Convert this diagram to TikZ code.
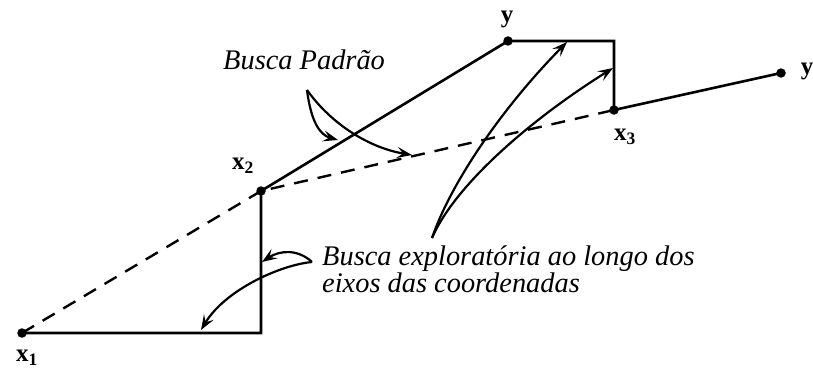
\documentclass[tikz,border=0pt]{standalone}
\usepackage{fontspec}
\setmainfont{Liberation Serif}
\usetikzlibrary{arrows.meta}
\begin{document}
\begin{tikzpicture}[x=1pt,y=-1pt,
  pt/.style={circle,fill=black,inner sep=0pt,minimum size=9.5pt},
  path/.style={line width=2.6pt,line join=miter},
  dashpath/.style={line width=2.4pt,dash pattern=on 14pt off 10pt},
  ptr/.style={line width=2.2pt,-{Stealth[length=15pt,width=11pt,inset=6pt]}},
  lbl/.style={font=\fontsize{25}{25}\selectfont\bfseries,inner sep=0pt},
  note/.style={font=\fontsize{28.4}{25}\selectfont\itshape,inner sep=0pt,align=left}]
\useasboundingbox (0,0) rectangle (813,369);
% points
\node[pt] (x1) at (22,333) {};
\node[pt] (x2) at (261,191) {};
\node[pt] (y1) at (508,41) {};
\node[pt] (x3) at (614,110) {};
\node[pt] (y2) at (781,73) {};
\coordinate (c1) at (261,333);
\coordinate (c2) at (614,41);
% labels
\node[lbl] (lx1) at (27,358) {x\textsubscript{1}};
\node[lbl] (lx2) at (243,166) {x\textsubscript{2}};
\node[lbl] (lx3) at (625,137) {x\textsubscript{3}};
\node[lbl] (ly1) at (507,19) {y};
\node[lbl] (ly2) at (807,71) {y};
% solid search path
\draw[path] (x1.center) -- (c1) -- (x2.center) -- (y1.center) -- (c2) -- (x3.center) -- (y2.center);
% pattern moves (dashed)
\draw[dashpath] (x1.center) -- (x2.center) -- (x3.center);
% notes
\node[note,anchor=base west] (bp) at (223,69) {Busca Padrão};
\node[note,anchor=base west] (be) at (322,292) {Busca exploratória ao longo dos\\eixos das coordenadas};
% pointer origins and targets
\coordinate (s1) at (307,90);
\coordinate (t1) at (338,140);
\coordinate (t2) at (412,155);
\coordinate (s2) at (432,238);
\coordinate (t3) at (567,42);
\coordinate (t4) at (613,68);
\coordinate (s3) at (312,262);
\coordinate (t5) at (262,262);
\coordinate (t6) at (201,330);
\draw[ptr] (s1) .. controls (311,122) and (320,135) .. (t1);
\draw[ptr] (s1) .. controls (332,125) and (370,148) .. (t2);
\draw[ptr] (s2) .. controls (450,185) and (500,110) .. (t3);
\draw[ptr] (s2) .. controls (455,185) and (530,120) .. (t4);
\draw[ptr] (s3) .. controls (298,249) and (280,250) .. (t5);
\draw[ptr] (s3) .. controls (280,265) and (225,290) .. (t6);
\end{tikzpicture}
\end{document}
